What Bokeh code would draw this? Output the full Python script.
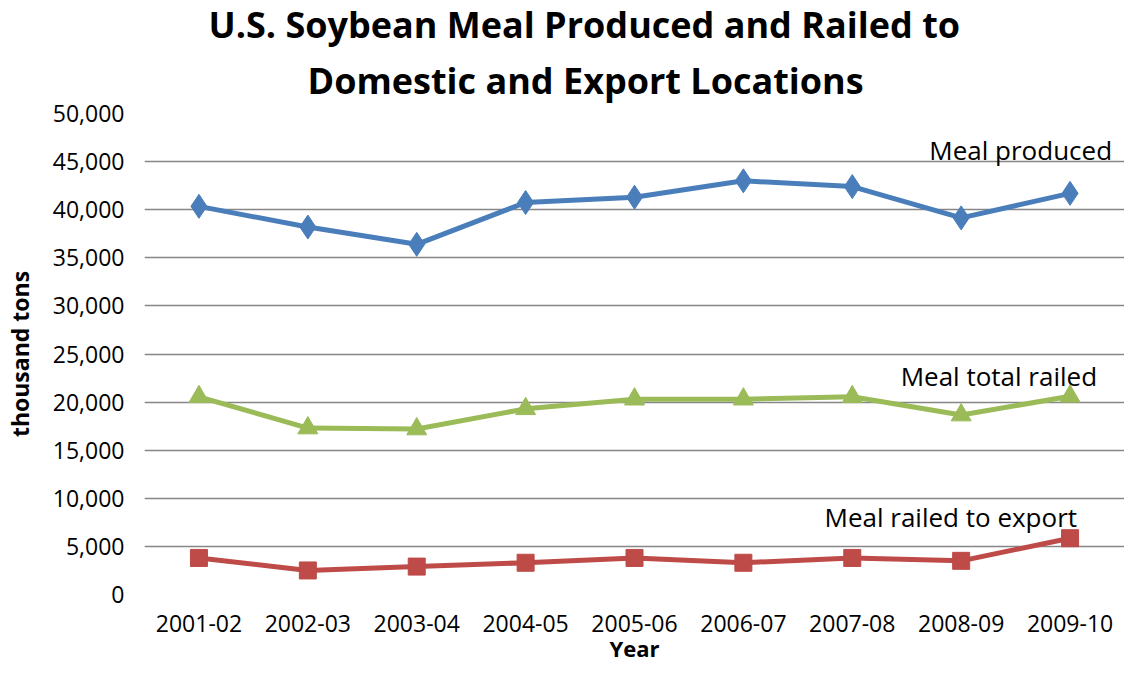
from bokeh.plotting import figure
from bokeh.models import Title, Range1d, NumeralTickFormatter, FixedTicker
from bokeh.core.properties import value
from bokeh.embed import file_html
from bokeh.resources import INLINE

years = ["2001-02", "2002-03", "2003-04", "2004-05", "2005-06",
         "2006-07", "2007-08", "2008-09", "2009-10"]
meal_produced = [40350, 38200, 36400, 40750, 41300, 43000, 42400, 39150, 41700]
meal_total_railed = [20550, 17300, 17200, 19300, 20300, 20300, 20550, 18650, 20600]
meal_railed_export = [3800, 2500, 2900, 3300, 3800, 3300, 3800, 3500, 5850]
y_ticks = [0, 5000, 10000, 15000, 20000, 25000, 30000, 35000, 40000, 45000, 50000]

FONT = "Open Sans"
BLUE = "#4A7EBB"
GREEN = "#9BBB59"
RED = "#BE4B48"

p = figure(x_range=years, y_range=Range1d(0, 50000), width=1124, height=665,
           output_backend="svg", toolbar_location=None,
           min_border_left=134, min_border_right=0, min_border_bottom=70,
           min_border_top=10)
p.outline_line_color = None
p.background_fill_color = "white"
p.border_fill_color = "white"

t2 = Title(text="Domestic and Export Locations", align="left",
           text_font=FONT, text_font_size="36px", text_font_style="bold",
           text_color="black", standoff=17, offset=163)
t1 = Title(text="U.S. Soybean Meal Produced and Railed to", align="left",
           text_font=FONT, text_font_size="36px", text_font_style="bold",
           text_color="black", standoff=-6, offset=64)
p.add_layout(t2, "above")
p.add_layout(t1, "above")

p.xgrid.grid_line_color = None
p.ygrid.grid_line_color = "#868686"
p.ygrid.grid_line_width = 1.5
p.yaxis.ticker = FixedTicker(ticks=y_ticks)
p.yaxis.formatter = NumeralTickFormatter(format="0,0")

for ax in (p.xaxis, p.yaxis):
    ax.axis_line_color = None
    ax.major_tick_line_color = None
    ax.minor_tick_line_color = None
    ax.major_tick_out = 0
    ax.major_tick_in = 0
    ax.minor_tick_out = 0
    ax.minor_tick_in = 0
    ax.major_label_text_font = FONT
    ax.major_label_text_font_size = "23px"
    ax.major_label_text_color = "black"
    ax.axis_label_text_font = FONT
    ax.axis_label_text_font_size = "23px"
    ax.axis_label_text_font_style = "bold"
    ax.axis_label_text_color = "black"

p.xaxis.axis_label_text_font_size = "22px"
p.xaxis.axis_label = "Year"
p.yaxis.axis_label = "thousand tons"
p.xaxis.major_label_standoff = 20
p.yaxis.major_label_standoff = 20
p.xaxis.axis_label_standoff = -2
p.yaxis.axis_label_standoff = 14

p.line(years, meal_produced, line_color=BLUE, line_width=5)
p.scatter(years, meal_produced, marker="diamond", size=24, fill_color=BLUE,
          line_color=BLUE)
p.line(years, meal_total_railed, line_color=GREEN, line_width=5)
p.scatter(years, meal_total_railed, marker="triangle", size=20,
          fill_color=GREEN, line_color=GREEN)
p.line(years, meal_railed_export, line_color=RED, line_width=5)
p.scatter(years, meal_railed_export, marker="square", size=17,
          fill_color=RED, line_color=RED)

last = years[-1]
p.text(x=[last], y=[46200], text=["Meal produced"], text_align="right",
       text_baseline="middle", x_offset=42, text_font=value(FONT),
       text_font_size="26px", text_color="black")
p.text(x=[last], y=[22700], text=["Meal total railed"], text_align="right",
       text_baseline="middle", x_offset=27, text_font=value(FONT),
       text_font_size="26px", text_color="black")
p.text(x=[last], y=[8100], text=["Meal railed to export"], text_align="right",
       text_baseline="middle", x_offset=7, text_font=value(FONT),
       text_font_size="26px", text_color="black")

open("out.html", "w").write(file_html(p, INLINE))
